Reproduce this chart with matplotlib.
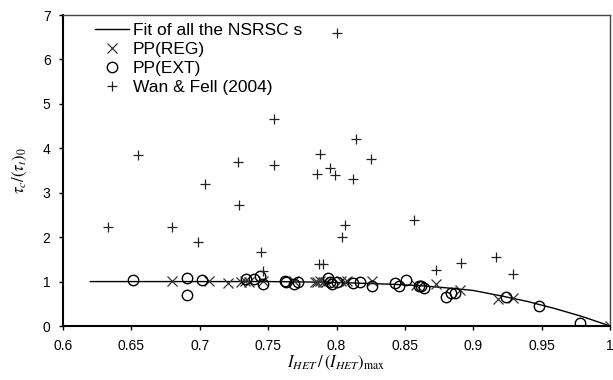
import matplotlib
matplotlib.use("Agg")
import matplotlib.pyplot as plt
import numpy as np

plt.rcParams["font.family"] = ["Liberation Sans", "DejaVu Sans"]
plt.rcParams["mathtext.fontset"] = "stix"

# fitted curve
fit_x = [0.62, 0.70, 0.75, 0.78, 0.80, 0.82, 0.84, 0.86, 0.88, 0.90, 0.92, 0.94, 0.96, 0.98, 1.00]
fit_y = [1.00, 1.00, 1.00, 0.99, 0.98, 0.96, 0.94, 0.91, 0.86, 0.80, 0.68, 0.55, 0.39, 0.21, 0.00]

# PP(REG)
reg_x = [0.680, 0.707, 0.721, 0.730, 0.733, 0.736, 0.746, 0.769, 0.784, 0.786, 0.788, 0.790,
         0.792, 0.803, 0.806, 0.808, 0.826, 0.858, 0.873, 0.890, 0.918, 0.929, 1.000]
reg_y = [1.02, 1.02, 0.97, 1.00, 1.02, 1.00, 1.02, 1.02, 1.00, 0.98, 1.01, 0.99,
         1.00, 1.01, 0.99, 1.01, 1.01, 0.93, 0.95, 0.80, 0.61, 0.63, 0.00]

# PP(EXT)
ext_x = [0.651, 0.691, 0.691, 0.702, 0.734, 0.740, 0.744, 0.746, 0.762, 0.763, 0.769, 0.772,
         0.794, 0.795, 0.797, 0.800, 0.812, 0.817, 0.826, 0.843, 0.846, 0.851, 0.860,
         0.862, 0.864, 0.880, 0.884, 0.887, 0.924, 0.948, 0.978]
ext_y = [1.045, 1.08, 0.70, 1.045, 1.06, 1.06, 1.12, 0.95, 1.02, 0.98, 0.95, 0.99,
         1.08, 1.00, 0.95, 1.00, 0.97, 0.98, 0.91, 0.97, 0.89, 1.03, 0.89,
         0.89, 0.86, 0.65, 0.74, 0.74, 0.65, 0.44, 0.06]

# Wan & Fell (2004)
wf_x = [0.633, 0.655, 0.680, 0.699, 0.704, 0.728, 0.729, 0.745, 0.746, 0.754, 0.754, 0.786,
        0.787, 0.788, 0.790, 0.795, 0.799, 0.800, 0.804, 0.806, 0.812, 0.814, 0.825,
        0.857, 0.873, 0.891, 0.917, 0.929]
wf_y = [2.22, 3.85, 2.22, 1.90, 3.20, 3.70, 2.73, 1.67, 1.23, 4.65, 3.62, 3.43,
        1.39, 3.88, 1.39, 3.56, 3.40, 6.60, 2.00, 2.28, 3.30, 4.22, 3.77,
        2.38, 1.26, 1.42, 1.55, 1.16]

xticks = [0.6, 0.65, 0.7, 0.75, 0.8, 0.85, 0.9, 0.95, 1.0]
xtick_labels = ["0.6", "0.65", "0.7", "0.75", "0.8", "0.85", "0.9", "0.95", "1"]
yticks = [0, 1, 2, 3, 4, 5, 6, 7]

fig = plt.figure(figsize=(6.13, 3.8), dpi=100)
ax = fig.add_axes([63 / 613, 1 - 326 / 380, (610 - 63) / 613, (326 - 15) / 380])

ax.plot(fit_x, fit_y, color="black", lw=1.0, label="Fit of all the NSRSC s")
ax.plot(reg_x, reg_y, ls="none", marker="x", ms=6.5, mew=0.9, color="#333333",
        label="PP(REG)")
ax.plot(ext_x, ext_y, ls="none", marker="o", ms=7.5, mew=1.0, mfc="none", mec="black",
        label="PP(EXT)")
ax.plot(wf_x, wf_y, ls="none", marker="+", ms=7, mew=0.9, color="#222222",
        label="Wan & Fell (2004)")

ax.set_xlim(0.6, 1.0)
ax.set_ylim(0, 7)
ax.set_xticks(xticks)
ax.set_xticklabels(xtick_labels)
ax.set_yticks(yticks)
ax.tick_params(axis="both", direction="out", length=3, width=1, labelsize=10, pad=6)

for s in ("left", "bottom"):
    ax.spines[s].set_linewidth(1.5)
    ax.spines[s].set_color("black")
for s in ("top", "right"):
    ax.spines[s].set_linewidth(1.0)
    ax.spines[s].set_color("#444444")

ax.set_xlabel(r"$I_{HET}\,/\,(I_{HET})_{\mathrm{max}}$", fontsize=12, labelpad=1)
ax.set_ylabel(r"$\tau_c/(\tau_t)_0$", fontsize=12, labelpad=10)

leg = ax.legend(loc="upper left", bbox_to_anchor=(0.058, 0.975), frameon=False,
                fontsize=12.5, handlelength=2.0, handletextpad=0.2, labelspacing=0.22,
                borderpad=0, borderaxespad=0)

fig.savefig("out.png", dpi=100)
